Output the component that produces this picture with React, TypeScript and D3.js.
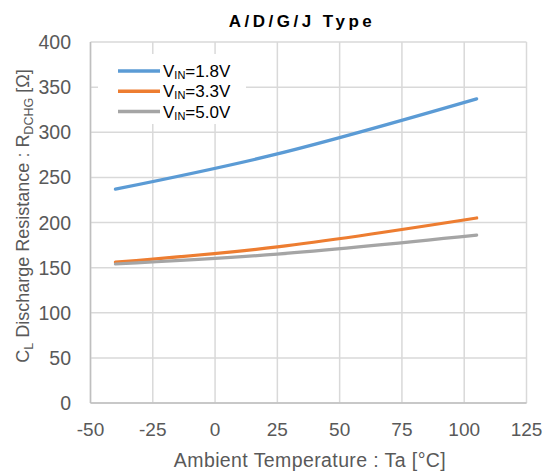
import React from "react";
import * as d3 from "d3";

const temps = [-40, 25, 105];
const vin18 = [237, 276, 337];
const vin33 = [156, 173, 205];
const vin50 = [154, 165, 186];
const seriesNames = ["1.8V", "3.3V", "5.0V"];
const seriesColors = ["#5b9bd5", "#ed7d31", "#a5a5a5"];
const xTicks = [-50, -25, 0, 25, 50, 75, 100, 125];
const yTicks = [0, 50, 100, 150, 200, 250, 300, 350, 400];

export default function App() {
  const W = 548, H = 474;
  const x = d3.scaleLinear().domain([-50, 125]).range([90.5, 526.5]);
  const y = d3.scaleLinear().domain([0, 400]).range([403, 42]);
  const line = d3
    .line<number>()
    .x((_, i) => x(temps[i]))
    .y((d) => y(d))
    .curve(d3.curveCatmullRom.alpha(0.5));
  const series = [vin18, vin33, vin50];
  const font = "Arial, 'Liberation Sans', sans-serif";
  return (
    <svg
      width={W}
      height={H}
      style={{ position: "absolute", left: 0, top: 0 }}
      fontFamily={font}
    >
      <rect width={W} height={H} fill="#fff" />
      <text
        x={302}
        y={27}
        textAnchor="middle"
        fontWeight="bold"
        fontSize={17}
        letterSpacing={3.5}
        fill="#000"
      >
        A/D/G/J Type
      </text>
      {xTicks.map((t) => (
        <line key={"gx" + t} x1={x(t)} x2={x(t)} y1={y(400)} y2={y(0)} stroke="#d9d9d9" strokeWidth={1.5} />
      ))}
      {yTicks.map((t) => (
        <line key={"gy" + t} x1={x(-50)} x2={x(125)} y1={y(t)} y2={y(t)} stroke="#d9d9d9" strokeWidth={1.5} />
      ))}
      <line x1={x(-50)} x2={x(-50)} y1={y(400)} y2={y(0)} stroke="#bfbfbf" strokeWidth={1.5} />
      <line x1={x(-50)} x2={x(125)} y1={y(0)} y2={y(0)} stroke="#bfbfbf" strokeWidth={1.5} />
      {yTicks.map((t) => (
        <text key={"ty" + t} x={71} y={y(t) + 7} textAnchor="end" fontSize={19.5} fill="#595959">
          {t}
        </text>
      ))}
      {xTicks.map((t) => (
        <text key={"tx" + t} x={x(t)} y={436} textAnchor="middle" fontSize={19} fill="#595959">
          {t}
        </text>
      ))}
      <text x={310} y={467} textAnchor="middle" fontSize={19.5} letterSpacing={0.4} fill="#595959">
        Ambient Temperature : Ta [°C]
      </text>
      <text
        transform="translate(29,216) rotate(-90)"
        textAnchor="middle"
        fontSize={18}
        fill="#595959"
      >
        C<tspan fontSize={12.5} dy={4}>L</tspan>
        <tspan dy={-4}> Discharge Resistance : R</tspan>
        <tspan fontSize={12.5} dy={4}>DCHG</tspan>
        <tspan dy={-4}> [Ω]</tspan>
      </text>
      <rect x={98} y={54} width={148} height={70} fill="#fff" />
      {series.map((s, i) => (
        <path key={"s" + i} d={line(s) || ""} fill="none" stroke={seriesColors[i]} strokeWidth={3.2} strokeLinecap="round" />
      ))}
      {seriesNames.map((n, i) => (
        <g key={"lg" + i}>
          <line x1={118} x2={160} y1={71 + i * 20.3} y2={71 + i * 20.3} stroke={seriesColors[i]} strokeWidth={3.5} />
          <text x={163} y={71 + i * 20.3 + 6} fontSize={17} fill="#000">
            V<tspan fontSize={11} dy={2}>IN</tspan>
            <tspan dy={-2}>={n}</tspan>
          </text>
        </g>
      ))}
    </svg>
  );
}
